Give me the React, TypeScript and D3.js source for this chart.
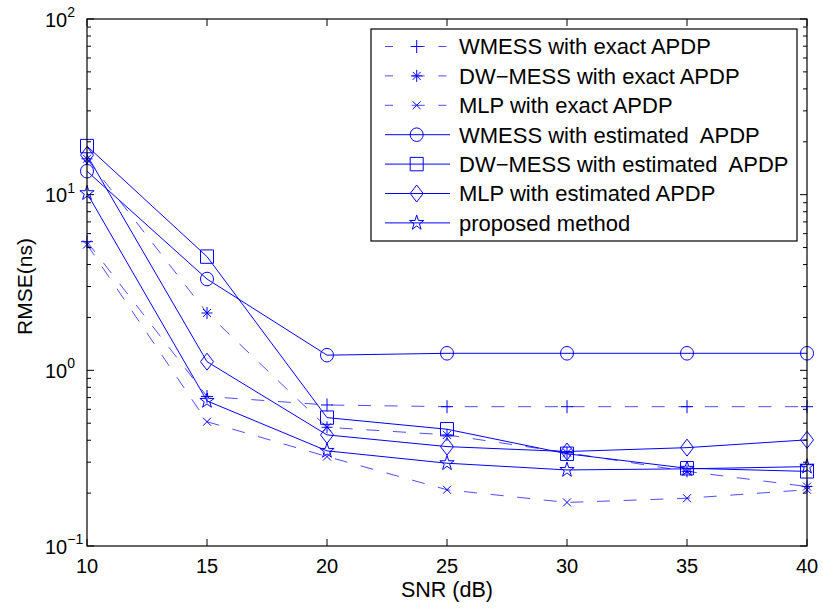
import React from "react";
import * as d3 from "d3";

const snr = [10, 15, 20, 25, 30, 35, 40];
const wmessExact = [5.4, 0.71, 0.635, 0.621, 0.621, 0.621, 0.621];
const dwmessExact = [16.0, 2.12, 0.474, 0.429, 0.34, 0.266, 0.218];
const mlpExact = [5.2, 0.51, 0.323, 0.209, 0.177, 0.187, 0.209];
const wmessEst = [13.6, 3.31, 1.22, 1.25, 1.25, 1.25, 1.25];
const dwmessEst = [18.9, 4.44, 0.538, 0.462, 0.335, 0.277, 0.266];
const mlpEst = [16.8, 1.12, 0.429, 0.368, 0.345, 0.363, 0.402];
const proposed = [10.2, 0.67, 0.348, 0.296, 0.271, 0.275, 0.283];

const seriesNames = [
  "WMESS with exact APDP",
  "DW\u2212MESS with exact APDP",
  "MLP with exact APDP",
  "WMESS with estimated  APDP",
  "DW\u2212MESS with estimated  APDP",
  "MLP with estimated APDP",
  "proposed method",
];
const seriesValues = [wmessExact, dwmessExact, mlpExact, wmessEst, dwmessEst, mlpEst, proposed];
const seriesMarkers = ["plus", "asterisk", "x", "circle", "square", "diamond", "star"];
const seriesDashed = [true, true, true, false, false, false, false];

const xTicks = [10, 15, 20, 25, 30, 35, 40];
const yMajor = [0.1, 1, 10, 100];
const yExponents = ["\u22121", "0", "1", "2"];

const W = 823;
const H = 608;
const L = 87, R = 807, T = 19, B = 546;
const BLUE = "#0000ff";
const FONT = "'Liberation Sans', Arial, Helvetica, sans-serif";

function markerPath(type: string, x: number, y: number): string {
  switch (type) {
    case "plus":
      return `M${x - 6},${y}H${x + 6}M${x},${y - 6.5}V${y + 6.5}`;
    case "x":
      return `M${x - 4},${y - 4}L${x + 4},${y + 4}M${x - 4},${y + 4}L${x + 4},${y - 4}`;
    case "asterisk":
      return `M${x - 5.5},${y}H${x + 5.5}M${x},${y - 6}V${y + 6}M${x - 4},${y - 4}L${x + 4},${y + 4}M${x - 4},${y + 4}L${x + 4},${y - 4}`;
    case "circle":
      return `M${x - 6.5},${y}a6.5,6.8 0 1,0 13,0a6.5,6.8 0 1,0 -13,0Z`;
    case "square":
      return `M${x - 6.5},${y - 6.7}H${x + 6.5}V${y + 6.7}H${x - 6.5}Z`;
    case "diamond":
      return `M${x},${y - 8.5}L${x + 6.5},${y}L${x},${y + 8.5}L${x - 6.5},${y}Z`;
    case "star": {
      const Ro = 7.5, Ri = Ro * 0.382;
      const pts: string[] = [];
      for (let i = 0; i < 10; i++) {
        const a = -Math.PI / 2 + (i * Math.PI) / 5;
        const r = i % 2 === 0 ? Ro : Ri;
        pts.push(`${x + r * Math.cos(a)},${y + r * Math.sin(a) * 1.05}`);
      }
      return "M" + pts.join("L") + "Z";
    }
  }
  return "";
}

export default function App() {
  const x = d3.scaleLinear().domain([10, 40]).range([L, R]);
  const y = d3.scaleLog().domain([0.1, 100]).range([B, T]);
  const line = d3
    .line<[number, number]>()
    .x((d) => x(d[0]))
    .y((d) => y(d[1]));

  const minorTicks: number[] = [];
  for (let e = -1; e < 2; e++) {
    for (let k = 2; k <= 9; k++) minorTicks.push(k * Math.pow(10, e));
  }

  const legX = 371, legY = 29, legW = 426, legH = 212;
  const rowY0 = 46.5, rowStep = 29.4;

  return (
    <svg
      width={W}
      height={H}
      style={{ position: "absolute", left: 0, top: 0, background: "#fff" }}
      fontFamily={FONT}
    >
      <rect x={0} y={0} width={W} height={H} fill="#fff" />
      {seriesValues.map((vals, i) => (
        <path
          key={"l" + i}
          d={line(snr.map((s, j) => [s, vals[j]] as [number, number])) || ""}
          fill="none"
          stroke={BLUE}
          strokeWidth={1}
          strokeOpacity={seriesDashed[i] ? 0.7 : 1}
          strokeDasharray={seriesDashed[i] ? "13,13.7" : undefined}
        />
      ))}
      {seriesValues.map((vals, i) =>
        snr.map((s, j) => (
          <path
            key={"m" + i + "-" + j}
            d={markerPath(seriesMarkers[i], x(s), y(vals[j]))}
            fill="none"
            stroke={BLUE}
            strokeWidth={1}
          />
        ))
      )}
      <rect x={L} y={T} width={R - L} height={B - T} fill="none" stroke="#000" strokeWidth={1.2} />
      {xTicks.map((t) => (
        <g key={"xt" + t}>
          <line x1={x(t)} x2={x(t)} y1={B} y2={B - 7} stroke="#000" />
          <line x1={x(t)} x2={x(t)} y1={T} y2={T + 7} stroke="#000" />
          <text x={x(t)} y={573} textAnchor="middle" fontSize={20} fill="#000">
            {t}
          </text>
        </g>
      ))}
      {yMajor.map((t, i) => (
        <g key={"yt" + t}>
          <line x1={L} x2={L + 7} y1={y(t)} y2={y(t)} stroke="#000" />
          <line x1={R} x2={R - 7} y1={y(t)} y2={y(t)} stroke="#000" />
          <text x={45} y={y(t) + 7.5} fontSize={20} fill="#000">
            10
            <tspan dy={-9.5} fontSize={14}>
              {yExponents[i]}
            </tspan>
          </text>
        </g>
      ))}
      {minorTicks.map((t) => (
        <g key={"ym" + t}>
          <line x1={L} x2={L + 4} y1={y(t)} y2={y(t)} stroke="#000" />
          <line x1={R} x2={R - 4} y1={y(t)} y2={y(t)} stroke="#000" />
        </g>
      ))}
      <text x={(L + R) / 2} y={597} textAnchor="middle" fontSize={21.5} fill="#000">
        SNR (dB)
      </text>
      <text
        transform={`translate(32,${(T + B) / 2 + 4}) rotate(-90)`}
        textAnchor="middle"
        fontSize={21}
        fill="#000"
      >
        RMSE(ns)
      </text>
      <rect x={legX} y={legY} width={legW} height={legH} fill="#fff" stroke="#000" strokeWidth={1.2} />
      {seriesNames.map((name, i) => {
        const ry = rowY0 + i * rowStep;
        return (
          <g key={"lg" + i}>
            <line
              x1={385}
              x2={450}
              y1={ry}
              y2={ry}
              stroke={BLUE}
              strokeWidth={1}
              strokeOpacity={seriesDashed[i] ? 0.7 : 1}
              strokeDasharray={seriesDashed[i] ? "8,18.7,13,13.7" : undefined}
            />
            <path d={markerPath(seriesMarkers[i], 416.7, ry)} fill="none" stroke={BLUE} strokeWidth={1} />
            <text x={459} y={ry + 7.8} fontSize={22} fill="#000" style={{ whiteSpace: "pre" }}>
              {name}
            </text>
          </g>
        );
      })}
    </svg>
  );
}
